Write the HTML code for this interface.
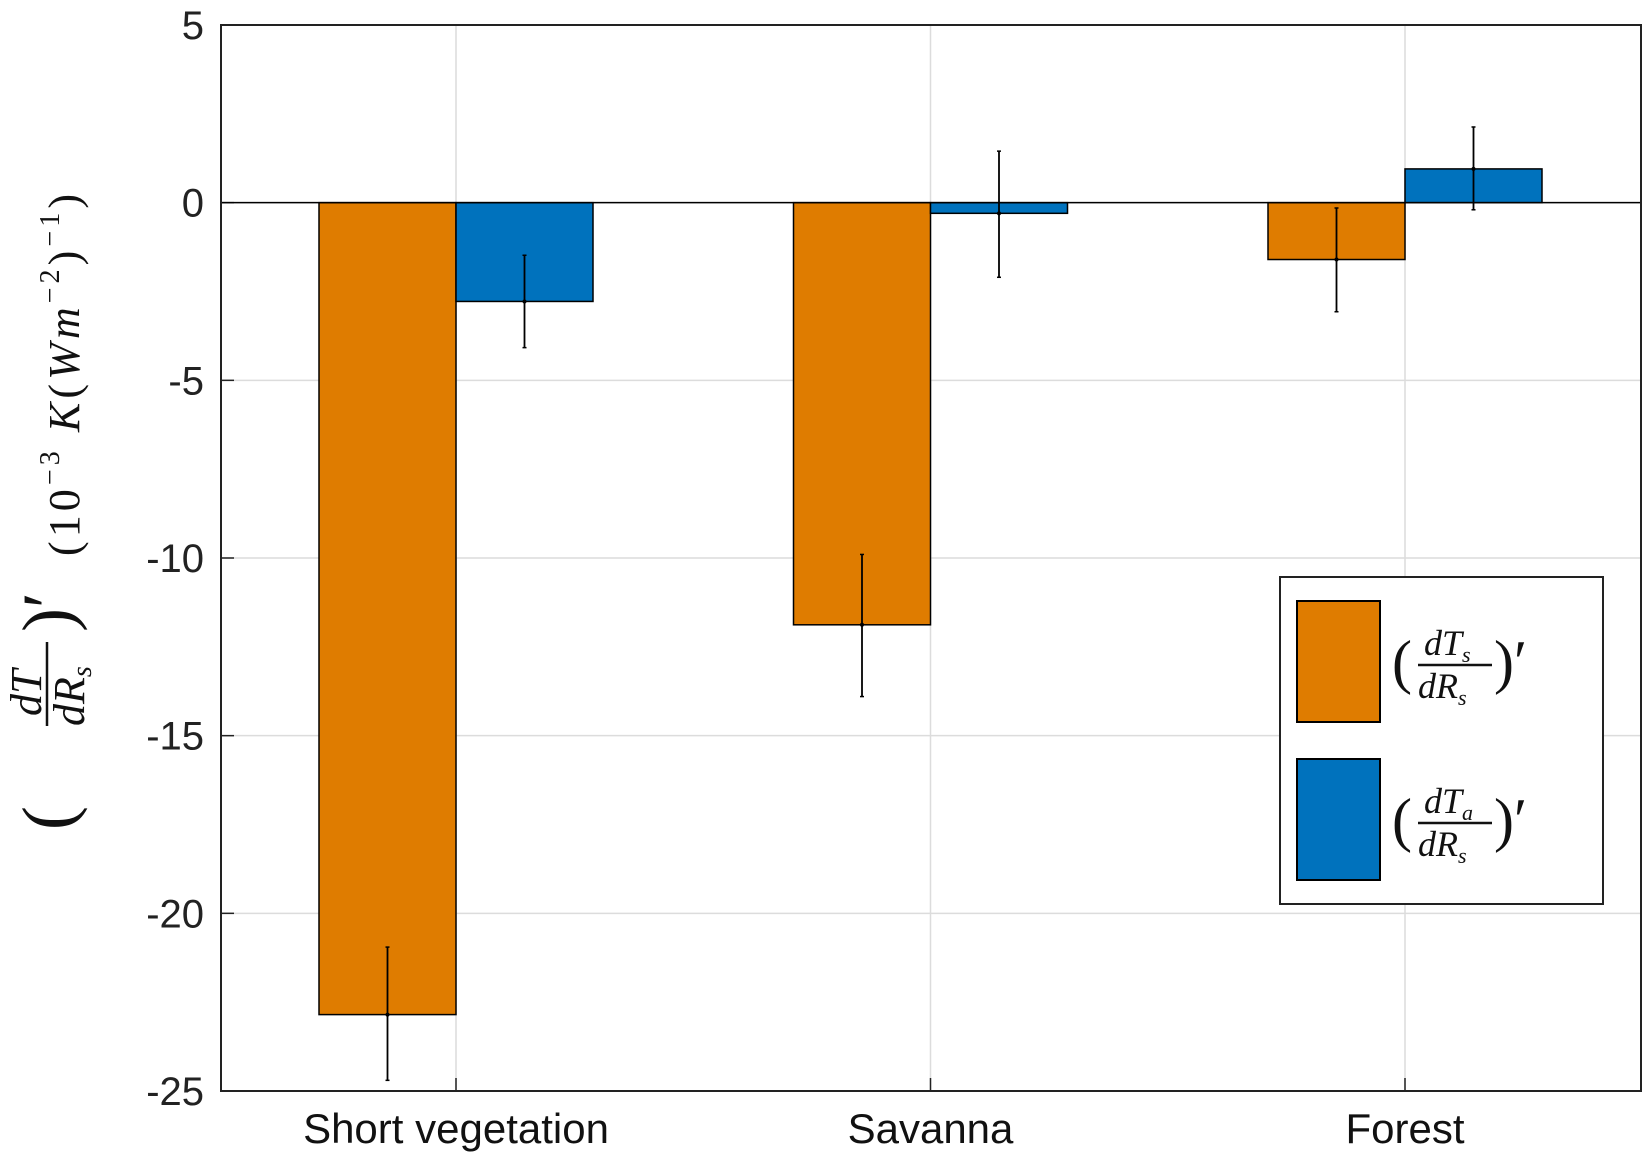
<!DOCTYPE html>
<html><head><meta charset="utf-8"><style>body{margin:0;background:#fff}svg{display:block}</style></head>
<body>
<svg id="chart" width="1648" height="1152" xmlns="http://www.w3.org/2000/svg">
<rect x="0" y="0" width="1648" height="1152" fill="#fff"/>
<g id="grid"></g>
<g id="bars"></g>
<g id="errs"></g>
<g id="axes"></g>
<g transform="translate(50,512) rotate(-90)" font-family="Liberation Serif, serif" font-style="italic" fill="#111">
  <text x="-318" y="22" font-size="72" font-style="normal" font-weight="normal">(</text>
  <text x="-204" y="-9" font-size="44">dT</text>
  <line x1="-214" y1="-3" x2="-130" y2="-3" stroke="#111" stroke-width="2.5"/>
  <text x="-214" y="34" font-size="44">dR<tspan font-size="28" dy="7">s</tspan></text>
  <text x="-120" y="22" font-size="72" font-style="normal">)′</text>
  <text x="-44" y="29" font-size="44" font-style="normal" textLength="362" lengthAdjust="spacing">(10<tspan font-size="28" dy="-20">−3</tspan><tspan dy="20"> </tspan><tspan font-style="italic">K</tspan>(<tspan font-style="italic">Wm</tspan><tspan font-size="28" dy="-20">−2</tspan><tspan dy="20">)</tspan><tspan font-size="28" dy="-20">−1</tspan><tspan dy="20">)</tspan></text>
</g>
<g>
  <rect x="1280" y="577" width="323" height="327" fill="#fff" stroke="#222" stroke-width="2"/>
  <rect x="1297" y="601" width="83" height="121" fill="#DF7C00" stroke="#000" stroke-width="2"/>
  <rect x="1297" y="759" width="83" height="121" fill="#0072BD" stroke="#000" stroke-width="2"/>
  <g font-family="Liberation Serif, serif" font-style="italic" fill="#111">
    <text x="1392" y="682" font-size="60" font-style="normal">(</text>
    <text x="1424" y="655" font-size="36">dT<tspan font-size="22" dy="7">s</tspan></text>
    <line x1="1418" y1="665" x2="1492" y2="665" stroke="#111" stroke-width="2.5"/>
    <text x="1418" y="698" font-size="36">dR<tspan font-size="22" dy="7">s</tspan></text>
    <text x="1494" y="682" font-size="60" font-style="normal">)′</text>
  </g>
  <g font-family="Liberation Serif, serif" font-style="italic" fill="#111">
    <text x="1392" y="840" font-size="60" font-style="normal">(</text>
    <text x="1424" y="813" font-size="36">dT<tspan font-size="22" dy="7">a</tspan></text>
    <line x1="1418" y1="823" x2="1492" y2="823" stroke="#111" stroke-width="2.5"/>
    <text x="1418" y="856" font-size="36">dR<tspan font-size="22" dy="7">s</tspan></text>
    <text x="1494" y="840" font-size="60" font-style="normal">)′</text>
  </g>
</g>
</svg>
<script>
const categories = ["Short vegetation","Savanna","Forest"];
const tsValues = [-22.85, -11.88, -1.6];
const taValues = [-2.78, -0.3, 0.95];
const tsErrHigh = [-20.95, -9.9, -0.15];
const tsErrLow = [-24.7, -13.9, -3.07];
const taErrHigh = [-1.48, 1.45, 2.13];
const taErrLow = [-4.08, -2.1, -0.2];
const yTicks = [5, 0, -5, -10, -15, -20, -25];
const yTickLabels = ["5","0","-5","-10","-15","-20","-25"];

const L=221,R=1641,T=25,B=1091,yMax=5,yMin=-25;
const y=v=>T+(yMax-v)/(yMax-yMin)*(B-T);
const xc=i=>456+i*474.5;
const bw=137;
const NS="http://www.w3.org/2000/svg";
function mk(p,tag,attrs){const e=document.createElementNS(NS,tag);for(const k in attrs)e.setAttribute(k,attrs[k]);p.appendChild(e);return e;}
const grid=document.getElementById('grid'),bars=document.getElementById('bars'),errs=document.getElementById('errs'),axes=document.getElementById('axes');
yTicks.forEach((t,i)=>{
  const g=mk(grid,'line',{x1:L,x2:R,y1:y(t),y2:y(t),stroke:'#dcdcdc','stroke-width':1.5});
  
  
  const tk=mk(axes,'line',{x1:L,x2:L+13,y1:y(t),y2:y(t),stroke:'#222','stroke-width':1.5});
  
  
  const lb=mk(axes,'text',{x:L-17,y:y(t)+14,'text-anchor':'end','font-family':'Liberation Sans, sans-serif','font-size':40,fill:'#222'});
  lb.textContent=yTickLabels[i];
  
  
});
categories.forEach((c,i)=>{
  const g=mk(grid,'line',{x1:xc(i),x2:xc(i),y1:T,y2:B,stroke:'#dcdcdc','stroke-width':1.5});
  
  
  const tk=mk(axes,'line',{x1:xc(i),x2:xc(i),y1:B,y2:B-13,stroke:'#222','stroke-width':1.5});
  
  
  const lb=mk(axes,'text',{x:xc(i),y:B+52,'text-anchor':'middle','font-family':'Liberation Sans, sans-serif','font-size':42,fill:'#111'});
  lb.textContent=c;
  
  
  [[tsValues[i],'#DF7C00',xc(i)-bw,tsErrHigh[i],tsErrLow[i],'ts'],[taValues[i],'#0072BD',xc(i),taErrHigh[i],taErrLow[i],'ta']].forEach(([v,col,x0,eh,el,nm])=>{
    const b=mk(bars,'rect',{x:x0,y:Math.min(y(v),y(0)),width:bw,height:Math.abs(y(v)-y(0)),fill:col,stroke:'#000','stroke-width':1.5});
    
    
    const cx=x0+bw/2;
    const e=mk(errs,'line',{x1:cx,x2:cx,y1:y(eh),y2:y(el),stroke:'#000','stroke-width':1.8});
    
    
    mk(errs,'line',{x1:cx-2,x2:cx+2,y1:y(eh),y2:y(eh),stroke:'#000','stroke-width':1.5});
    mk(errs,'line',{x1:cx-2,x2:cx+2,y1:y(el),y2:y(el),stroke:'#000','stroke-width':1.5});
    mk(errs,'circle',{cx:cx,cy:y(v),r:2,fill:'#000'});
  });
});
const z=mk(axes,'line',{x1:L,x2:R,y1:y(0),y2:y(0),stroke:'#000','stroke-width':1.5});


const fr=mk(axes,'rect',{x:L,y:T,width:R-L,height:B-T,fill:'none',stroke:'#222','stroke-width':2});


</script>
</body></html>
